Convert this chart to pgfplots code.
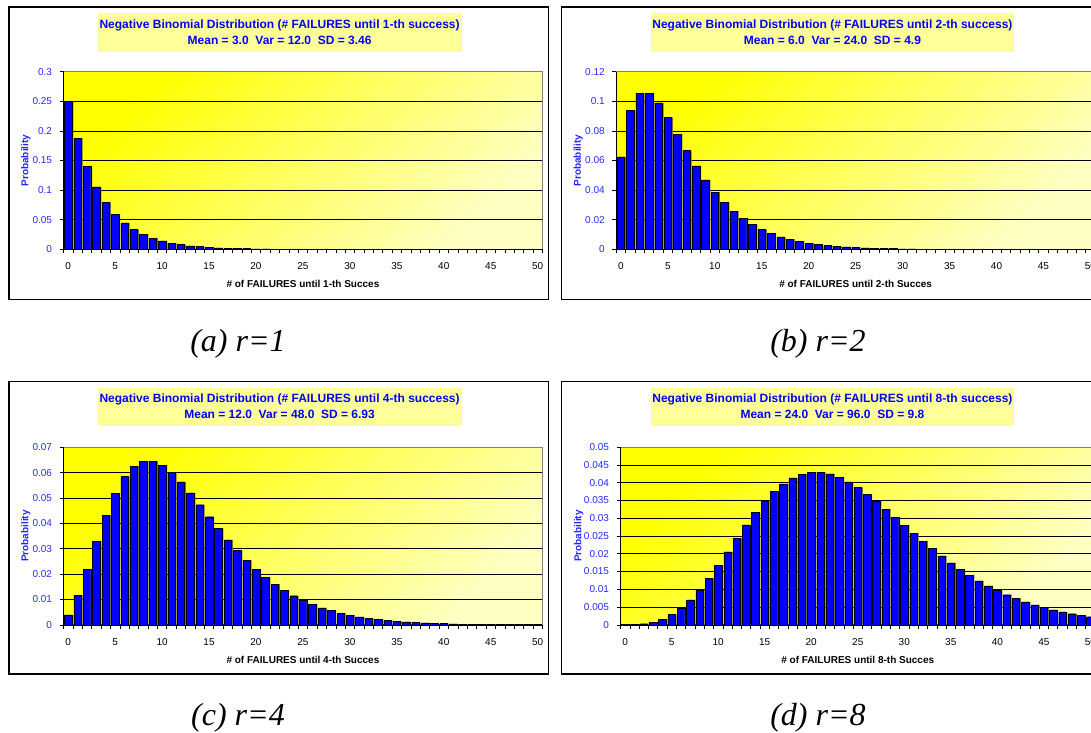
\documentclass[border=0pt]{standalone}
\usepackage{fontspec}
\setmainfont{Liberation Sans}
\newfontfamily\capfont{Liberation Serif}
\usepackage{pgfplots}
\usepackage{pgfplotstable}
\pgfplotsset{compat=1.18}
\definecolor{barblue}{RGB}{0,0,255}
\definecolor{tickblue}{RGB}{40,40,255}
\definecolor{titleblue}{RGB}{0,0,255}
\definecolor{boxyellow}{RGB}{255,255,153}
\definecolor{brightyel}{RGB}{255,255,0}
\definecolor{paleyel}{RGB}{255,255,195}
\definecolor{barshadow}{RGB}{110,110,70}
\definecolor{bordergray}{RGB}{128,128,128}

\pgfplotstableread{
k p
0 0.25
1 0.1875
2 0.140625
3 0.10546875
4 0.0791016
5 0.0593262
6 0.0444946
7 0.0333710
8 0.0250282
9 0.0187712
10 0.0140784
11 0.0105588
12 0.0079191
13 0.0059393
14 0.0044545
15 0.0033409
16 0.0025057
17 0.0018792
18 0.0014094
19 0.0010571
20 0.0007928
21 0.0005946
22 0.0004459
23 0.0003345
24 0.0002508
25 0.0001881
26 0.0001411
27 0.0001058
28 0.0000794
29 0.0000595
30 0.0000446
}\rone

\pgfplotstableread{
k p
0 0.0625
1 0.09375
2 0.10546875
3 0.10546875
4 0.09887695
5 0.08898926
6 0.07786560
7 0.06674194
8 0.05631351
9 0.04692793
10 0.03871554
11 0.03167635
12 0.02573704
13 0.02078760
14 0.01670433
15 0.01336346
16 0.01064901
17 0.00845657
18 0.00669478
19 0.00528535
20 0.00416221
21 0.00327031
22 0.00256423
23 0.00200679
24 0.00156780
25 0.00122288
26 0.00095244
27 0.00074079
28 0.00057543
29 0.00044646
30 0.00034600
31 0.00026788
32 0.00020718
33 0.00016010
34 0.00012359
35 0.00009536
36 0.0000735
37 0.0000566
38 0.0000436
39 0.0000335
40 0.0000258
}\rtwo

\pgfplotstableread{
k p
0 0.00390625
1 0.01171875
2 0.02197266
3 0.03295898
4 0.04325867
5 0.05191040
6 0.05839920
7 0.06257057
8 0.06452590
9 0.06452590
10 0.06291275
11 0.06005309
12 0.05629976
13 0.05196901
14 0.04732893
15 0.04259603
16 0.03793711
17 0.03347392
18 0.02928966
19 0.02543574
20 0.02193833
21 0.01880431
22 0.01602642
23 0.01358764
24 0.01146452
25 0.00963016
26 0.00805607
27 0.00671343
28 0.00557450
29 0.00461338
30 0.00380598
31 0.00313085
32 0.00256815
33 0.00210128
34 0.00171486
35 0.00139656
36 0.00113452
37 0.00092007
38 0.00074454
39 0.00060135
40 0.00048496
41 0.00039008
42 0.00031373
43 0.00025142
44 0.00020142
45 0.00016147
46 0.00012882
47 0.00010259
48 0.00008216
49 0.00006475
50 0.00005216
}\rfour

\pgfplotstableread{
k p
0 0.0000152588
1 0.0000915527
2 0.000308990
3 0.000772476
4 0.001593232
5 0.002867818
6 0.004660204
7 0.006990306
8 0.009830118
9 0.013106824
10 0.016711201
11 0.020509201
12 0.024354676
13 0.028101549
14 0.031614243
15 0.034775667
16 0.037492516
17 0.039697958
18 0.041352040
19 0.042440251
20 0.042970754
21 0.042970754
22 0.042482450
23 0.041558918
24 0.040260202
25 0.038649794
26 0.036791634
27 0.034747655
28 0.032575927
29 0.030329311
30 0.028054613
31 0.025792144
32 0.023575632
33 0.021432393
34 0.019383708
35 0.017445337
36 0.015628114
37 0.013938588
38 0.012379665
39 0.010951242
40 0.009650757
41 0.008473835
42 0.007414606
43 0.006466226
44 0.005621219
45 0.004871723
46 0.004209806
47 0.003627599
48 0.003117468
49 0.002672115
50 0.002284658
}\reight

\pgfplotsset{
  nbstyle/.style={
    scale only axis, anchor=south west,
    xmin=-0.5, xmax=50.5, ymin=0,
    axis x line*=bottom, axis y line*=left,
    axis line style={-, black, line width=0.7pt},
    xtick={0,5,...,50},
    minor xtick={-0.5,0.5,...,50.5},
    tick align=outside,
    major tick length=4pt, minor tick length=4pt,
    every major x tick/.style={draw=none},
    every minor x tick/.style={black, line width=0.6pt},
    every major y tick/.style={black, line width=0.6pt},
    scaled y ticks=false,
    /pgf/number format/fixed, /pgf/number format/precision=3,
    /pgf/number format/assume math mode=true,
    tick label style={font=\fontsize{10}{12}\selectfont},
    yticklabel style={text=tickblue, xshift=-4pt},
    xticklabel style={text=black, yshift=-6pt},
    ymajorgrids,
    major grid style={black, line width=0.6pt},
    axis background/.style={top color=brightyel, bottom color=paleyel, shading angle=45},
    every axis x label/.style={at={(axis description cs:0.5,0)}, yshift=-35pt, anchor=center,
      font=\bfseries\fontsize{10}{12}\selectfont, text=black},
    every axis y label/.style={at={(axis description cs:-0.0790,0.5)}, rotate=90, anchor=center,
      font=\bfseries\fontsize{10}{12}\selectfont, text=tickblue},
    ylabel={Probability},
    ybar,
    after end axis/.code={\draw[bordergray, line width=0.8pt] (rel axis cs:0,1) -- (rel axis cs:1,1) -- (rel axis cs:1,0);},
  },
  shadowbar/.style={fill=barshadow, draw=none, bar width=0.8, bar shift=1.3pt},
  mainbar/.style={fill=barblue, draw=black, line width=0.4pt, bar width=0.8, bar shift=0pt},
}

\begin{document}
\begin{tikzpicture}
\useasboundingbox (0,0) rectangle (1091pt,-732pt);
\clip (0,0) rectangle (1091pt,-732pt);
\fill[white] (0,0) rectangle (1091pt,-732pt);

% frames
\draw[black, line width=1.2pt] (9pt,-7pt) rectangle (548.5pt,-299.5pt);
\draw[black, line width=1.2pt] (561.7pt,-7pt) rectangle (1102pt,-299.5pt);
\draw[black, line width=1.2pt] (9pt,-381.5pt) rectangle (548.5pt,-674pt);
\draw[black, line width=1.2pt] (561.7pt,-381.5pt) rectangle (1102pt,-674pt);

% title boxes
\fill[boxyellow] (97.7pt,-13.3pt) rectangle (461.5pt,-51.7pt);
\fill[boxyellow] (651.3pt,-13.3pt) rectangle (1013.5pt,-51.7pt);
\fill[boxyellow] (97.7pt,-387.8pt) rectangle (461.5pt,-426.2pt);
\fill[boxyellow] (651.3pt,-387.8pt) rectangle (1013.5pt,-426.2pt);

\begin{scope}[every node/.style={text=titleblue, font=\bfseries\fontsize{12}{14}\selectfont, anchor=base, inner sep=0pt}]
\node at (279.6pt,-28.3pt) {Negative Binomial Distribution (\# FAILURES until 1-th success)};
\node at (279.6pt,-44.3pt) {Mean = 3.0\ \ Var = 12.0\ \ SD = 3.46};
\node at (832.4pt,-28.3pt) {Negative Binomial Distribution (\# FAILURES until 2-th success)};
\node at (832.4pt,-44.3pt) {Mean = 6.0\ \ Var = 24.0\ \ SD = 4.9};
\node at (279.6pt,-402.8pt) {Negative Binomial Distribution (\# FAILURES until 4-th success)};
\node at (279.6pt,-418.8pt) {Mean = 12.0\ \ Var = 48.0\ \ SD = 6.93};
\node at (832.4pt,-402.8pt) {Negative Binomial Distribution (\# FAILURES until 8-th success)};
\node at (832.4pt,-418.8pt) {Mean = 24.0\ \ Var = 96.0\ \ SD = 9.8};
\end{scope}

% (a)
\begin{axis}[nbstyle, at={(63.5pt,-249.3pt)}, width=478.9pt, height=177.6pt,
  ymax=0.3, ytick={0,0.05,0.1,0.15,0.2,0.25,0.3},
  xlabel={\# of FAILURES until 1-th Succes}]
\addplot[shadowbar] table[x=k,y=p]{\rone};
\addplot[mainbar] table[x=k,y=p]{\rone};
\end{axis}

% (b)
\begin{axis}[nbstyle, at={(616.2pt,-249.3pt)}, width=478.9pt, height=177.6pt,
  ymax=0.12, ytick={0,0.02,0.04,0.06,0.08,0.1,0.12},
  xlabel={\# of FAILURES until 2-th Succes}]
\addplot[shadowbar] table[x=k,y=p]{\rtwo};
\addplot[mainbar] table[x=k,y=p]{\rtwo};
\end{axis}

% (c)
\begin{axis}[nbstyle, at={(63.5pt,-624.8pt)}, width=478.9pt, height=177.6pt,
  ymax=0.07, ytick={0,0.01,0.02,0.03,0.04,0.05,0.06,0.07},
  xlabel={\# of FAILURES until 4-th Succes}]
\addplot[shadowbar] table[x=k,y=p]{\rfour};
\addplot[mainbar] table[x=k,y=p]{\rfour};
\end{axis}

% (d)
\begin{axis}[nbstyle, at={(620.5pt,-624.8pt)}, width=474.5pt, height=177.6pt,
  ymax=0.05, ytick={0,0.005,0.01,0.015,0.02,0.025,0.03,0.035,0.04,0.045,0.05},
  every axis y label/.append style={at={(axis description cs:-0.0880,0.5)}},
  xlabel={\# of FAILURES until 8-th Succes}]
\addplot[shadowbar] table[x=k,y=p]{\reight};
\addplot[mainbar] table[x=k,y=p]{\reight};
\end{axis}

% captions
\begin{scope}[every node/.style={font=\capfont\itshape\fontsize{32}{38}\selectfont, anchor=center, inner sep=0pt}]
\node at (238pt,-344pt) {(a) r=1};
\node at (818pt,-344pt) {(b) r=2};
\node at (238pt,-718pt) {(c) r=4};
\node at (818pt,-718pt) {(d) r=8};
\end{scope}
\end{tikzpicture}
\end{document}
